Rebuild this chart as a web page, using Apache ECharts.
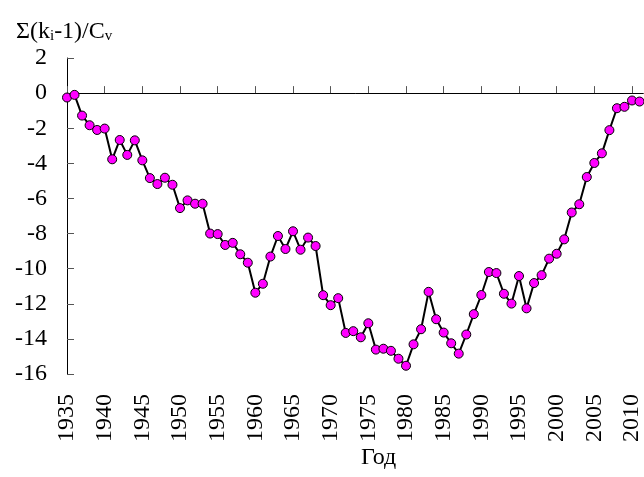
<!DOCTYPE html>
<html lang="ru">
<head>
  <meta charset="UTF-8">
  <script src="https://cdn.jsdelivr.net/npm/echarts@6/dist/echarts.min.js"></script>
  <style>
    body { margin: 0; background: #ffffff; }
    #main { width: 644px; height: 477px; }
  </style>
</head>
<body>
  <div id="main"></div>
  <script>
    // Годы и значения Σ(ki-1)/Cv
    var years = [
      1935, 1936, 1937, 1938, 1939, 1940, 1941, 1942, 1943, 1944,
      1945, 1946, 1947, 1948, 1949, 1950, 1951, 1952, 1953, 1954,
      1955, 1956, 1957, 1958, 1959, 1960, 1961, 1962, 1963, 1964,
      1965, 1966, 1967, 1968, 1969, 1970, 1971, 1972, 1973, 1974,
      1975, 1976, 1977, 1978, 1979, 1980, 1981, 1982, 1983, 1984,
      1985, 1986, 1987, 1988, 1989, 1990, 1991, 1992, 1993, 1994,
      1995, 1996, 1997, 1998, 1999, 2000, 2001, 2002, 2003, 2004,
      2005, 2006, 2007, 2008, 2009, 2010, 2011
    ];
    var values = [
      -0.25, -0.10, -1.28, -1.83, -2.10, -2.02, -3.77, -2.67, -3.52, -2.69,
      -3.83, -4.84, -5.18, -4.82, -5.22, -6.55, -6.11, -6.30, -6.30, -8.00,
      -8.03, -8.65, -8.53, -9.18, -9.66, -11.37, -10.86, -9.31, -8.14, -8.88,
      -7.87, -8.92, -8.23, -8.71, -11.51, -12.08, -11.68, -13.66, -13.56, -13.91,
      -13.11, -14.61, -14.56, -14.68, -15.13, -15.53, -14.31, -13.45, -11.32, -12.88,
      -13.64, -14.25, -14.84, -13.75, -12.59, -11.50, -10.19, -10.25, -11.43, -11.99,
      -10.42, -12.26, -10.82, -10.37, -9.43, -9.15, -8.33, -6.80, -6.33, -4.78,
      -3.98, -3.43, -2.11, -0.86, -0.78, -0.42, -0.48
    ];
    var yTicks = [2, 0, -2, -4, -6, -8, -10, -12, -14, -16];

    var font = 'Liberation Serif';
    var chart = echarts.init(document.getElementById('main'));

    var points = years.map(function (y, i) { return [y, values[i]]; });

    chart.setOption({
      animation: false,
      backgroundColor: '#ffffff',
      textStyle: { fontFamily: font, color: '#000' },
      title: {
        left: 11,
        top: 13,
        text: '{a|Σ(k}{s|i}{a|-1)/C}{s|v}',
        textStyle: {
          fontWeight: 'normal',
          rich: {
            a: { fontFamily: font, fontSize: 24, fontWeight: 'normal', color: '#000', verticalAlign: 'bottom', lineHeight: 26 },
            s: { fontFamily: font, fontSize: 15, fontWeight: 'normal', color: '#000', verticalAlign: 'bottom', lineHeight: 15 }
          }
        }
      },
      graphic: [{
        type: 'text',
        left: 361,
        top: 446,
        style: { text: 'Год', font: '24px "Liberation Serif"', fill: '#000' }
      }],
      grid: { left: 67, right: 0, top: 58, bottom: 103 },
      xAxis: {
        type: 'value',
        min: 1935,
        max: 2011.5,
        interval: 5,
        axisLine: { lineStyle: { color: '#000', width: 1 } },
        axisTick: { inside: true, length: 7, lineStyle: { color: '#555' } },
        splitLine: { show: false },
        axisLabel: {
          rotate: 90,
          margin: 20,
          fontFamily: font,
          fontSize: 24,
          color: '#000',
          showMaxLabel: false,
          formatter: function (v) { return v % 5 === 0 ? String(v) : ''; }
        }
      },
      yAxis: {
        type: 'value',
        min: yTicks[yTicks.length - 1],
        max: yTicks[0],
        interval: 2,
        axisLine: { show: true, lineStyle: { color: '#000', width: 1 } },
        axisTick: { show: true, inside: true, length: 7, lineStyle: { color: '#555' } },
        splitLine: { show: false },
        axisLabel: { margin: 20, fontFamily: font, fontSize: 24, color: '#000' }
      },
      series: [{
        type: 'line',
        data: points,
        symbol: 'circle',
        symbolSize: 9,
        lineStyle: { color: '#000', width: 2 },
        itemStyle: { color: '#ff00ff', borderColor: '#000', borderWidth: 1 }
      }]
    });
  </script>
</body>
</html>
